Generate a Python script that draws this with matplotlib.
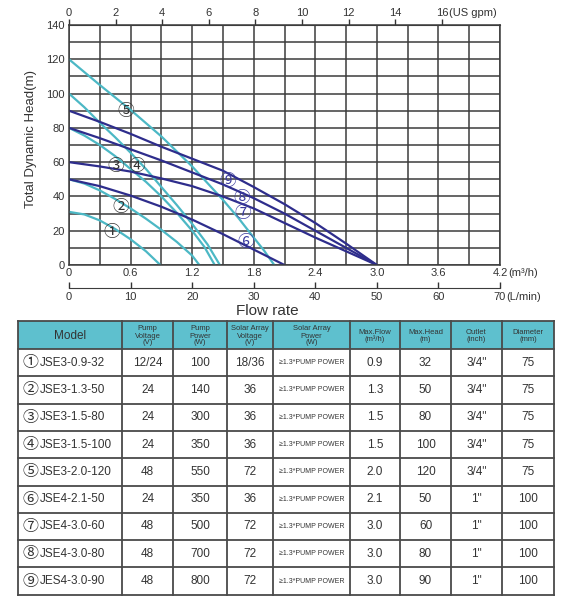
import numpy as np
import matplotlib
matplotlib.use("Agg")
import matplotlib.pyplot as plt
from matplotlib.patches import Rectangle

plt.rcParams["font.family"] = ["Liberation Sans", "DejaVu Sans", "Noto Sans CJK SC"]

# pump curves: flow (m3/h) vs head (m)
flows = [
    [0, 0.15, 0.3, 0.45, 0.6, 0.75, 0.89],
    [0, 0.15, 0.3, 0.45, 0.6, 0.75, 0.9, 1.05, 1.2, 1.27],
    [0, 0.15, 0.3, 0.45, 0.6, 0.75, 0.9, 1.05, 1.2, 1.32, 1.42],
    [0, 0.15, 0.3, 0.45, 0.6, 0.75, 0.9, 1.05, 1.2, 1.35, 1.47],
    [0, 0.3, 0.6, 0.9, 1.2, 1.5, 1.65, 1.8, 1.9, 2.0],
    [0, 0.3, 0.6, 0.9, 1.2, 1.5, 1.8, 2.1],
    [0, 0.3, 0.6, 0.9, 1.2, 1.5, 1.8, 2.1, 2.4, 2.7, 3.0],
    [0, 0.3, 0.6, 0.9, 1.2, 1.5, 1.8, 2.1, 2.4, 2.7, 3.0],
    [0, 0.3, 0.6, 0.9, 1.2, 1.5, 1.8, 2.1, 2.4, 2.7, 3.0],
]
heads = [
    [31, 29.5, 26, 21, 15, 8, 0],
    [50, 47.5, 43.5, 38.5, 33, 27, 20.5, 13.5, 5.5, 0],
    [80, 75.5, 70, 63.5, 56, 48.5, 40, 30.5, 20, 10.5, 0],
    [100, 92, 83, 74.5, 65.5, 56, 45.5, 35, 24, 12, 0],
    [120, 105, 90.5, 75, 57.5, 38, 27.5, 16, 8.5, 0],
    [50, 46, 40.5, 34, 26.5, 18, 9, 0],
    [60, 57.5, 54.5, 50.5, 46, 40, 33, 24.5, 16, 8, 0],
    [80, 74, 67.5, 61, 54, 47, 39, 30, 20, 10, 0],
    [90, 83.5, 76.5, 69, 62, 55, 45.5, 35.5, 24.5, 12.5, 0],
]
curve_marks = ["①", "②", "③", "④", "⑤", "⑥", "⑦", "⑧", "⑨"]

# table
models = ["JSE3-0.9-32", "JSE3-1.3-50", "JSE3-1.5-80", "JSE3-1.5-100", "JSE3-2.0-120",
          "JSE4-2.1-50", "JSE4-3.0-60", "JSE4-3.0-80", "JES4-3.0-90"]
pump_voltage = ["12/24", "24", "24", "24", "48", "24", "48", "48", "48"]
pump_power = ["100", "140", "300", "350", "550", "350", "500", "700", "800"]
array_voltage = ["18/36", "36", "36", "36", "72", "36", "72", "72", "72"]
array_power = ["≥1.3*PUMP POWER"] * 9
max_flow = ["0.9", "1.3", "1.5", "1.5", "2.0", "2.1", "3.0", "3.0", "3.0"]
max_head = ["32", "50", "80", "100", "120", "50", "60", "80", "90"]
outlet = ['3/4"', '3/4"', '3/4"', '3/4"', '3/4"', '1"', '1"', '1"', '1"']
diameter = ["75", "75", "75", "75", "75", "100", "100", "100", "100"]
headers = ["Model", "Pump\nVoltage\n(V)", "Pump\nPower\n(W)", "Solar Array\nVoltage\n(V)",
           "Solar Array\nPower\n(W)", "Max.Flow\n(m³/h)", "Max.Head\n(m)", "Outlet\n(inch)",
           "Diameter\n(mm)"]

cyan = "#4cb8c5"
navy = "#2e2d8c"
curve_colors = [cyan] * 5 + [navy] * 4
mark_colors = ["#333333"] * 5 + ["#3a3a9e"] * 4
mark_pos = [(0.42, 18.8), (0.50, 33.4), (0.46, 57.4), (0.66, 57.4), (0.55, 89.8),
            (1.72, 13.0), (1.69, 30.0), (1.68, 39.0), (1.55, 48.5)]
sym_font = ["Noto Sans CJK SC", "DejaVu Sans"]

W, H = 568, 606
fig = plt.figure(figsize=(W / 100, H / 100), dpi=100)

# ---- table (pixel coordinates) ----
tax = fig.add_axes([0, 0, 1, 1])
tax.set_xlim(0, W)
tax.set_ylim(H, 0)
tax.axis("off")
col_edges = [18, 122, 173, 227, 273, 350, 400, 451, 502, 554]
top, head_bot, row_h = 321, 349, 27.3
row_edges = [top, head_bot] + [head_bot + row_h * (i + 1) for i in range(9)]
tax.add_patch(Rectangle((col_edges[0], top), col_edges[-1] - col_edges[0], head_bot - top,
                        fc="#5ec0ce", ec="none"))
for y in row_edges:
    tax.plot([col_edges[0], col_edges[-1]], [y, y], color="#4a4a4a", lw=1.3)
for x in col_edges:
    tax.plot([x, x], [top, row_edges[-1]], color="#4a4a4a", lw=1.3)

centers = [(col_edges[i] + col_edges[i + 1]) / 2 for i in range(len(col_edges) - 1)]
hy = (top + head_bot) / 2
tax.text(centers[0], hy + 1, headers[0], ha="center", va="center", fontsize=8.5, color="#333333")
for c, t in zip(centers[1:], headers[1:]):
    tax.text(c, hy + 1, t, ha="center", va="center", fontsize=5.5, linespacing=1.0,
             color="#333333")

columns = [pump_voltage, pump_power, array_voltage, array_power, max_flow, max_head,
           outlet, diameter]
for i in range(9):
    yc = head_bot + row_h * (i + 0.5)
    tax.text(22.5, yc, curve_marks[i], ha="left", va="center", fontsize=11.5,
             family=sym_font, color="#333333")
    tax.text(40, yc, models[i], ha="left", va="center", fontsize=8.5, color="#333333")
    for j, col in enumerate(columns):
        fs = 5.0 if col is array_power else 8.5
        tax.text(centers[j + 1], yc, col[i], ha="center", va="center", fontsize=fs,
                 color="#333333")

fig.text(267.5 / W, 1 - 310.7 / H, "Flow rate", ha="center", va="center", fontsize=11,
         color="#333333")

# ---- performance chart ----
ax = fig.add_axes([69 / W, 1 - 265 / H, 431 / W, 240 / H])
ax.set_xlim(0, 4.2)
ax.set_ylim(0, 140)
xt = np.round(np.arange(0, 4.21, 0.6), 1)
ax.set_xticks(xt)
ax.set_xticklabels(["0"] + [f"{v:.1f}" for v in xt[1:]])
ax.set_xticks(np.arange(0.3, 4.2, 0.6), minor=True)
ax.set_yticks(range(0, 141, 20))
ax.set_yticks(range(10, 140, 20), minor=True)
ax.grid(which="both", color="#3c3c3c", lw=1.1)
ax.set_axisbelow(True)
ax.tick_params(which="both", length=0, labelsize=8, colors="#333333")
ax.tick_params(axis="x", pad=2.5)
ax.tick_params(axis="y", pad=3)
for s in ax.spines.values():
    s.set_color("#3c3c3c")
    s.set_linewidth(1.1)

for q, h, c in zip(flows, heads, curve_colors):
    ax.plot(q, h, color=c, lw=1.6, solid_capstyle="round")
for (x, y), m, c in zip(mark_pos, curve_marks, mark_colors):
    ax.text(x, y, m, ha="center", va="center", fontsize=12, family=sym_font, color=c)

ax.set_ylabel("Total Dynamic Head(m)", fontsize=9.5, color="#333333")
ax.yaxis.set_label_coords(-(69 - 37) / 431, (265 - 139) / 240)

# top axis: US gpm
gpm = ax.secondary_xaxis("top", functions=(lambda q: q * 4.40287, lambda g: g / 4.40287))
gpm.set_xticks(range(0, 17, 2))
gpm.tick_params(direction="out", length=4.3, width=1, pad=1, labelsize=8,
                colors="#333333")
gpm.spines["top"].set_color("#3c3c3c")
ax.annotate("(US gpm)", xy=(16 / 4.40287, 1), xycoords=("data", "axes fraction"),
            xytext=(5.0, 8.4), textcoords="offset points", ha="left", va="center",
            fontsize=8, color="#333333")
ax.annotate("(m³/h)", xy=(4.2, 0), xycoords=("data", "axes fraction"),
            xytext=(5.6, -5.5), textcoords="offset points", ha="left", va="center",
            fontsize=8, color="#333333")

# bottom axis: L/min
loc = -(287.7 - 265) / 240
lpm = ax.secondary_xaxis(loc, functions=(lambda q: q * 1000 / 60, lambda l: l * 60 / 1000))
lpm.set_xticks(range(0, 71, 10))
lpm.tick_params(direction="in", length=4.3, width=1, pad=3.0, labelsize=8,
                colors="#333333")
lpm.spines["bottom"].set_color("#3c3c3c")
ax.annotate("(L/min)", xy=(4.2, loc), xycoords=("data", "axes fraction"),
            xytext=(4.2, -6.6), textcoords="offset points", ha="left", va="center",
            fontsize=8, color="#333333")

fig.savefig("out.png", dpi=100)
